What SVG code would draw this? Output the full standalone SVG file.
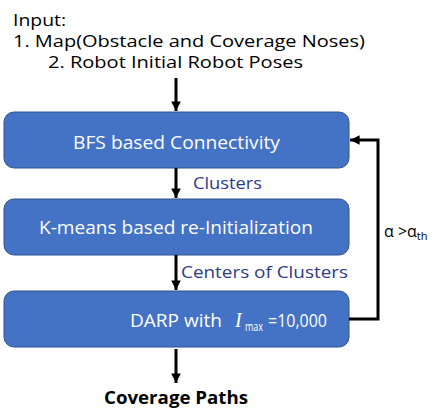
<svg xmlns="http://www.w3.org/2000/svg" width="447" height="420" viewBox="0 0 447 420">
<defs>
<marker id="ah" viewBox="0 0 10 10" refX="10" refY="5" markerWidth="3.2" markerHeight="3.2" orient="auto" markerUnits="strokeWidth">
<path d="M0,0 L10,5 L0,10 z" fill="#000"/>
</marker>
</defs>
<style>
.box{fill:#4472C4;stroke:#2F528F;stroke-width:1}
.bt{font-family:"Open Sans","Noto Sans",sans-serif;font-size:19px;fill:#fff}
.lbl{font-family:"Open Sans","Noto Sans",sans-serif;font-size:17px;fill:#2E3A8C}
.in{font-family:"Open Sans","Noto Sans",sans-serif;font-size:17px;fill:#000}
.c{stroke:#000;stroke-width:3;fill:none}
</style>
<rect width="447" height="420" fill="#fff"/>
<g id="input">
<text class="in" x="13" y="26" textLength="53" lengthAdjust="spacingAndGlyphs">Input:</text>
<text class="in" x="13" y="47" textLength="352" lengthAdjust="spacingAndGlyphs">1. Map(Obstacle and Coverage Noses)</text>
<text class="in" x="48" y="68" textLength="255" lengthAdjust="spacingAndGlyphs">2. Robot Initial Robot Poses</text>
</g>
<g id="bfs">
<rect class="box" x="4" y="112" width="345" height="56" rx="10"/>
<text class="bt" x="73" y="149" textLength="207" lengthAdjust="spacingAndGlyphs">BFS based Connectivity</text>
</g>
<g id="kmeans">
<rect class="box" x="4" y="199" width="345" height="56" rx="10"/>
<text class="bt" x="39" y="234" textLength="274" lengthAdjust="spacingAndGlyphs">K-means based re-Initialization</text>
</g>
<g id="darp">
<rect class="box" x="4" y="291" width="345" height="56" rx="10"/>
<text class="bt" x="130" y="327" textLength="92" lengthAdjust="spacingAndGlyphs">DARP with</text>
<text x="235" y="327" font-family="'Liberation Serif',serif" font-style="italic" font-size="20" fill="#fff">I</text>
<text x="245" y="331" font-family="'Open Sans','Noto Sans',sans-serif" font-size="12" fill="#fff" textLength="18" lengthAdjust="spacingAndGlyphs">max</text>
<text class="bt" x="268" y="327" textLength="59" lengthAdjust="spacingAndGlyphs">=10,000</text>
</g>
<g id="output">
<text x="104" y="404" font-family="'Open Sans','Noto Sans',sans-serif" font-weight="bold" font-size="18" fill="#000" textLength="144" lengthAdjust="spacingAndGlyphs">Coverage Paths</text>
</g>
<g id="connectors">
<line class="c" x1="176" y1="78" x2="176" y2="111" marker-end="url(#ah)"/>
<line class="c" x1="176" y1="168" x2="176" y2="198" marker-end="url(#ah)"/>
<line class="c" x1="176" y1="255" x2="176" y2="290" marker-end="url(#ah)"/>
<line class="c" x1="176" y1="349" x2="176" y2="383" marker-end="url(#ah)"/>
<polyline class="c" points="349,319 378,319 378,140 350,140" marker-end="url(#ah)"/>
<text class="lbl" x="193" y="189" textLength="69" lengthAdjust="spacingAndGlyphs">Clusters</text>
<text class="lbl" x="181" y="278" textLength="167" lengthAdjust="spacingAndGlyphs">Centers of Clusters</text>
<text x="384" y="237" font-family="'Open Sans','Noto Sans',sans-serif" font-size="16" fill="#000">α &gt;α<tspan font-size="11" dy="3">th</tspan></text>
</g>
</svg>
